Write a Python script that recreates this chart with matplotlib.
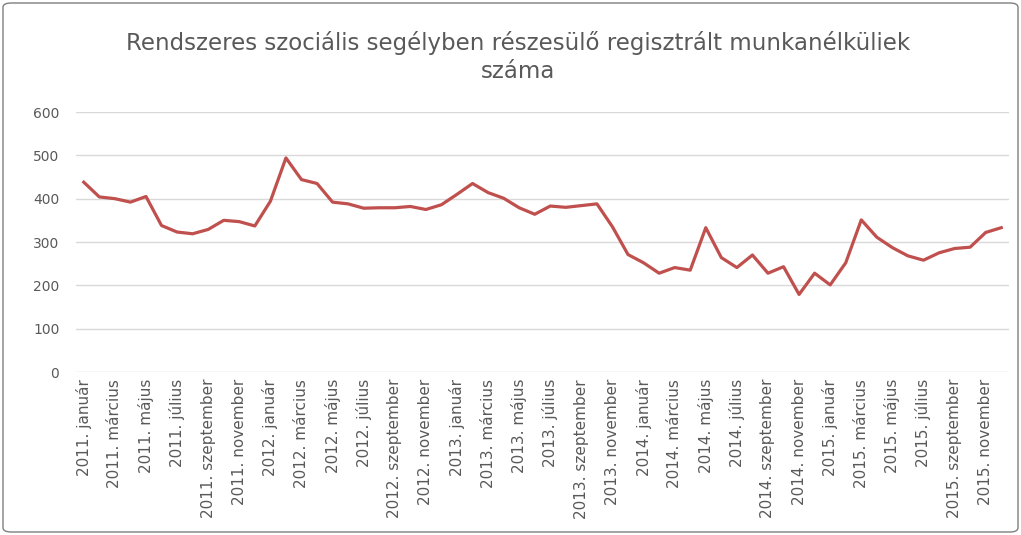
import matplotlib.pyplot as plt
from matplotlib.patches import FancyBboxPatch

years = [2011, 2012, 2013, 2014, 2015]
months = ["január", "február", "március", "április", "május", "június",
          "július", "augusztus", "szeptember", "október", "november", "december"]

values = [438, 404, 400, 392, 405, 338, 323, 319, 329, 350, 347, 337,
          394, 494, 444, 435, 392, 388, 378, 379, 379, 382, 375, 386,
          410, 435, 414, 401, 379, 364, 383, 380, 384, 388, 335, 271,
          252, 228, 241, 235, 333, 264, 241, 270, 228, 243, 179, 228,
          201, 252, 351, 311, 287, 268, 258, 275, 285, 288, 322, 333]

labels = [f"{y}. {m}" for y in years for m in months]


def main():
	plt.rcParams['font.family'] = ['Liberation Sans Narrow', 'DejaVu Sans']
	fig = plt.figure(figsize=(10.21, 5.35), dpi=100)
	ax = fig.add_axes([76 / 1021, 1 - 372 / 535, (1009 - 76) / 1021, (372 - 112) / 535])

	x = list(range(len(values)))
	ax.plot(x, values, color='#C0504D', linewidth=2.3, solid_joinstyle='round')

	ax.set_xlim(-0.5, len(values) - 0.5)
	ax.set_ylim(0, 600)
	ax.set_yticks(range(0, 601, 100))
	ax.set_xticks(x[::2])
	ax.set_xticklabels(labels[::2], rotation=90, fontsize=11, color='#595959')
	ax.tick_params(axis='y', labelsize=10, labelcolor='#595959', length=0, pad=12)
	ax.tick_params(axis='x', length=0, pad=5)
	ax.grid(axis='y', color='#D9D9D9', linewidth=1)
	ax.set_axisbelow(True)
	for s in ax.spines.values():
		s.set_visible(False)

	fig.text(0.507, 0.893, "Rendszeres szociális segélyben részesülő regisztrált munkanélküliek\nszáma",
	         ha='center', va='center', fontsize=16.5, color='#595959', linespacing=1.25)

	frame = FancyBboxPatch((3 / 1021, 3 / 535), 1 - 6 / 1021, 1 - 6 / 535,
	                       boxstyle="round,pad=0,rounding_size=0.008",
	                       transform=fig.transFigure, fill=False, edgecolor='#7F7F7F', linewidth=1)
	fig.patches.append(frame)

	fig.savefig("out.png", dpi=100)


if __name__ == '__main__':
	main()
